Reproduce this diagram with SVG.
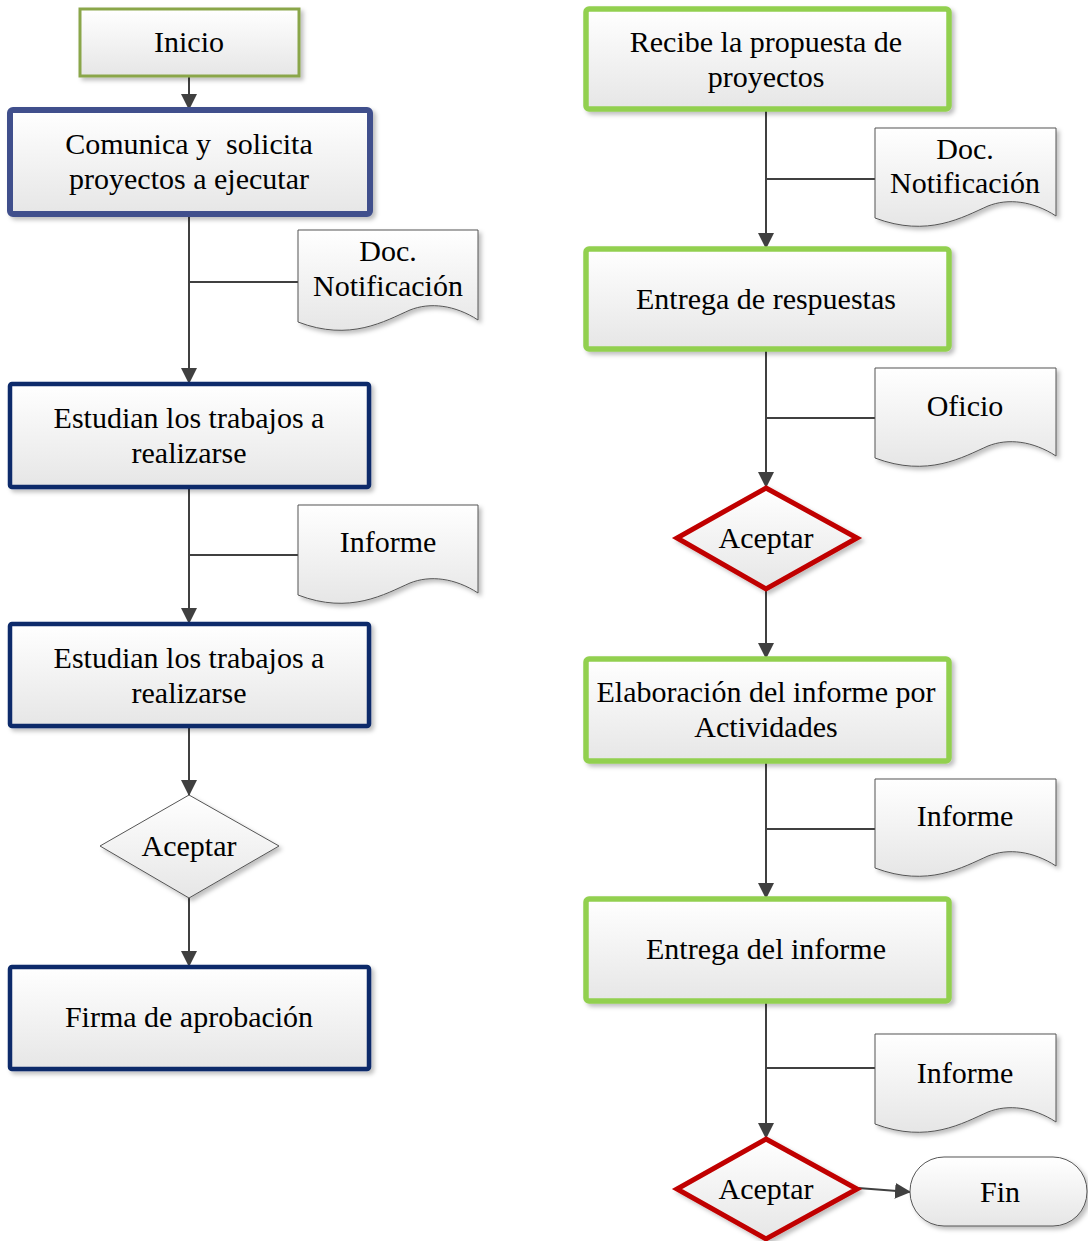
<svg xmlns="http://www.w3.org/2000/svg" width="1088" height="1241" viewBox="0 0 1088 1241">
  <defs>
    <linearGradient id="fillGrad" x1="0" y1="0" x2="0" y2="1">
      <stop offset="0" stop-color="#ffffff"/>
      <stop offset="1" stop-color="#e6e6e6"/>
    </linearGradient>
    <filter id="shadow" x="-10%" y="-10%" width="130%" height="130%">
      <feDropShadow dx="3" dy="3" stdDeviation="2" flood-color="#000000" flood-opacity="0.25"/>
    </filter>
    <marker id="arrow" viewBox="0 0 16 16" refX="15" refY="8" markerWidth="16" markerHeight="16" markerUnits="userSpaceOnUse" orient="auto">
      <path d="M0,0 L16,8 L0,16 Z" fill="#404040"/>
    </marker>
  </defs>
  <style>
    .shape { fill: url(#fillGrad); filter: url(#shadow); }
    .start { stroke: #8aa64a; stroke-width: 3; }
    .blue1 { stroke: #3f4f8c; stroke-width: 6; }
    .navy { stroke: #0f2a6b; stroke-width: 4.5; }
    .green { stroke: #92d050; stroke-width: 5.5; }
    .red { stroke: #c00000; stroke-width: 5; stroke-linejoin: miter; }
    .thin { stroke: #555555; stroke-width: 1; }
    .doc { stroke: #555555; stroke-width: 1; }
    .conn { stroke: #404040; stroke-width: 2; fill: none; }
    .arr { marker-end: url(#arrow); }
    text { font-family: "Liberation Serif", "Times New Roman", serif; font-size: 30px; fill: #000000; text-anchor: middle; white-space: pre; }
  </style>

  <!-- connectors -->
  <g id="connectors">
    <path class="conn arr" d="M189,76 V109"/>
    <path class="conn arr" d="M189,215 V383"/>
    <path class="conn" d="M189,282 H298"/>
    <path class="conn arr" d="M189,488 V623"/>
    <path class="conn" d="M189,555 H298"/>
    <path class="conn arr" d="M189,727 V795"/>
    <path class="conn arr" d="M189,898 V966"/>

    <path class="conn arr" d="M766,110 V248"/>
    <path class="conn" d="M766,179 H875"/>
    <path class="conn arr" d="M766,350 V487"/>
    <path class="conn" d="M766,418 H875"/>
    <path class="conn arr" d="M766,590 V658"/>
    <path class="conn arr" d="M766,762 V898"/>
    <path class="conn" d="M766,829 H875"/>
    <path class="conn arr" d="M766,1002 V1138"/>
    <path class="conn" d="M766,1068 H875"/>
    <path class="conn arr" d="M858,1188 L910,1192"/>
  </g>

  <!-- left column -->
  <g id="inicio">
    <rect class="shape start" x="80" y="9" width="219" height="67"/>
    <text x="189" y="52">Inicio</text>
  </g>
  <g id="comunica">
    <rect class="shape blue1" x="10" y="110" width="360" height="104" rx="3"/>
    <text x="189" y="154">Comunica y  solicita</text>
    <text x="189" y="189">proyectos a ejecutar</text>
  </g>
  <g id="doc-notificacion-1">
    <path class="shape doc" d="M298,230 H478 V320 C455,305 430,302 410,310 C385,321 350,342 298,322 Z"/>
    <text x="388" y="261">Doc.</text>
    <text x="388" y="296">Notificación</text>
  </g>
  <g id="estudian-1">
    <rect class="shape navy" x="10" y="384" width="359" height="103" rx="2"/>
    <text x="189" y="428">Estudian los trabajos a</text>
    <text x="189" y="463">realizarse</text>
  </g>
  <g id="informe-1">
    <path class="shape doc" d="M298,505 H478 V593 C455,578 430,575 410,583 C385,594 350,615 298,595 Z"/>
    <text x="388" y="552">Informe</text>
  </g>
  <g id="estudian-2">
    <rect class="shape navy" x="10" y="624" width="359" height="102" rx="2"/>
    <text x="189" y="668">Estudian los trabajos a</text>
    <text x="189" y="703">realizarse</text>
  </g>
  <g id="aceptar-1">
    <polygon class="shape thin" points="189,795 279,846 189,898 100,846"/>
    <text x="189" y="856">Aceptar</text>
  </g>
  <g id="firma">
    <rect class="shape navy" x="10" y="967" width="359" height="102" rx="2"/>
    <text x="189" y="1027">Firma de aprobación</text>
  </g>

  <!-- right column -->
  <g id="recibe">
    <rect class="shape green" x="586" y="9" width="363" height="100" rx="3"/>
    <text x="766" y="52">Recibe la propuesta de</text>
    <text x="766" y="87">proyectos</text>
  </g>
  <g id="doc-notificacion-2">
    <path class="shape doc" d="M875,128 H1056 V216 C1033,201 1008,198 988,206 C963,217 928,238 875,218 Z"/>
    <text x="965" y="159">Doc.</text>
    <text x="965" y="193">Notificación</text>
  </g>
  <g id="entrega-respuestas">
    <rect class="shape green" x="586" y="249" width="363" height="100" rx="3"/>
    <text x="766" y="309">Entrega de respuestas</text>
  </g>
  <g id="oficio">
    <path class="shape doc" d="M875,368 H1056 V456 C1033,441 1008,438 988,446 C963,457 928,478 875,458 Z"/>
    <text x="965" y="416">Oficio</text>
  </g>
  <g id="aceptar-2">
    <polygon class="shape red" points="766,488 857,538 766,589 677,538"/>
    <text x="766" y="548">Aceptar</text>
  </g>
  <g id="elaboracion">
    <rect class="shape green" x="586" y="659" width="363" height="102" rx="3"/>
    <text x="766" y="702">Elaboración del informe por</text>
    <text x="766" y="737">Actividades</text>
  </g>
  <g id="informe-2">
    <path class="shape doc" d="M875,779 H1056 V866 C1033,851 1008,848 988,856 C963,867 928,888 875,868 Z"/>
    <text x="965" y="826">Informe</text>
  </g>
  <g id="entrega-informe">
    <rect class="shape green" x="586" y="899" width="363" height="102" rx="3"/>
    <text x="766" y="959">Entrega del informe</text>
  </g>
  <g id="informe-3">
    <path class="shape doc" d="M875,1034 H1056 V1122 C1033,1107 1008,1104 988,1112 C963,1123 928,1144 875,1124 Z"/>
    <text x="965" y="1083">Informe</text>
  </g>
  <g id="aceptar-3">
    <polygon class="shape red" points="766,1139 857,1189 766,1239 677,1189"/>
    <text x="766" y="1199">Aceptar</text>
  </g>
  <g id="fin">
    <rect class="shape thin" x="910" y="1157" width="177" height="69" rx="34" ry="34"/>
    <text x="1000" y="1202">Fin</text>
  </g>
</svg>
